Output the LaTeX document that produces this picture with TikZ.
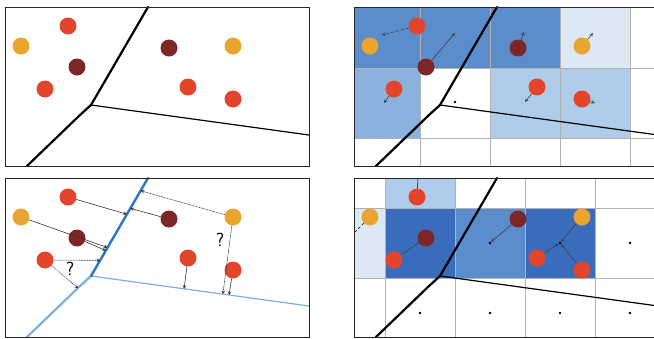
\documentclass[tikz,border=0pt]{standalone}
\usetikzlibrary{calc}

\definecolor{dotorange}{HTML}{EBA52F}
\definecolor{dotred}{HTML}{E2452C}
\definecolor{dotdark}{HTML}{7E2526}
\definecolor{cellA}{HTML}{3A6CBC}
\definecolor{cellB}{HTML}{5B8CCB}
\definecolor{cellC}{HTML}{8BB2DF}
\definecolor{cellD}{HTML}{B0CCEB}
\definecolor{cellE}{HTML}{DDE8F5}
\definecolor{bndblue}{HTML}{2C74C8}
\definecolor{bndlight}{HTML}{7DB0E2}

\begin{document}
\begin{tikzpicture}[line cap=round,line join=round,>=stealth,x=1pt,y=-1pt,
  frame/.style={draw=black!85,line width=1pt},
  dot/.style={circle,inner sep=0pt,minimum size=17pt},
  gridline/.style={draw=black!30,line width=0.6pt},
  centre/.style={circle,fill=black,inner sep=0pt,minimum size=2.6pt},
  shiftmove/.style={->,line width=0.6pt,draw=black!75},
  solidmove/.style={->,line width=0.6pt,draw=black!80},
  guessmove/.style={->,densely dotted,line width=0.6pt,draw=black!80},
  question/.style={font=\sffamily\fontsize{19}{21}\selectfont}]
  \useasboundingbox (0,0) rectangle (654,338);
  \clip (0,0) rectangle (654,338);

  % Points of one panel
  \def\placedots#1{
    \node[dot,fill=dotred] (#1r1) at (68,26) {};
    \node[dot,fill=dotorange] (#1o1) at (21,46) {};
    \node[dot,fill=dotdark] (#1d1) at (77,67) {};
    \node[dot,fill=dotred] (#1r2) at (45,89) {};
    \node[dot,fill=dotdark] (#1d2) at (169,48) {};
    \node[dot,fill=dotorange] (#1o2) at (233,46) {};
    \node[dot,fill=dotred] (#1r3) at (188,87) {};
    \node[dot,fill=dotred] (#1r4) at (233,99) {};
  }
  % Boundary corners of one panel
  \def\placebound#1{
    \coordinate (#1T) at (148,7);
    \coordinate (#1K) at (91,105);
    \coordinate (#1L) at (80,115);
    \coordinate (#1B) at (27,166);
    \coordinate (#1E) at (309,135);
  }

  % Top left: points and boundary
  \begin{scope}
    \placebound{a}
    \draw[line width=2.2pt] (aT) -- (aK) -- (aL) -- (aB);
    \draw[line width=1.2pt] (aK) -- (aE);
    \placedots{a}
    \draw[frame] (5,7) rectangle (309,166);
  \end{scope}

  % Top right: grid cells
  \begin{scope}[shift={(349,0)}]
    \fill[cellB] (5,7) rectangle (211,68);
    \fill[cellE] (211,7) rectangle (281,68);
    \fill[cellC] (5,68) rectangle (71,138);
    \fill[cellD] (141,68) rectangle (281,138);
    \foreach \gx in {71,141,211,281}
      \draw[gridline] (\gx,7) -- (\gx,166);
    \foreach \gy in {68,138}
      \draw[gridline] (5,\gy) -- (309,\gy);
    \placebound{b}
    \draw[line width=2.2pt] (bT) -- (bK) -- (bL) -- (bB);
    \draw[line width=1.2pt] (bK) -- (bE);
    \placedots{b}
    \coordinate (bm1) at (33,35);
    \coordinate (bm2) at (106,33);
    \coordinate (bm3) at (35,103);
    \coordinate (bm4) at (175,32);
    \coordinate (bm5) at (244,33);
    \coordinate (bm6) at (176,102);
    \coordinate (bm7) at (246,103);
    \draw[shiftmove,densely dashed] (br1) -- (bm1);
    \draw[shiftmove] (bd1) -- (bm2);
    \draw[shiftmove] (br2) -- (bm3);
    \draw[shiftmove] (bd2) -- (bm4);
    \draw[shiftmove] (bo2) -- (bm5);
    \draw[shiftmove] (br3) -- (bm6);
    \draw[shiftmove] (br4) -- (bm7);
    \node[centre] (bc1) at (106,102) {};
    \draw[frame] (5,7) rectangle (309,166);
  \end{scope}

  % Bottom left: projections on the boundary
  \begin{scope}[shift={(0,171)}]
    \placebound{c}
    \draw[bndlight,line width=2.2pt] (cK) -- (cL) -- (cB);
    \draw[bndlight,line width=1.2pt] (cK) -- (cE);
    \draw[bndblue,line width=2.4pt] (cT) -- (cK);
    \placedots{c}
    \coordinate (cp1) at ($(cT)!0.37!(cK)$);
    \coordinate (cp2) at ($(cT)!0.31!(cK)$);
    \coordinate (cp3) at ($(cT)!0.71!(cK)$);
    \coordinate (cp4) at ($(cT)!0.74!(cK)$);
    \coordinate (cp5) at ($(cT)!0.84!(cK)$);
    \coordinate (cp6) at ($(cK)!0.2!(cB)$);
    \coordinate (cp7) at ($(cT)!0.13!(cK)$);
    \coordinate (cp8) at ($(cK)!0.605!(cE)$);
    \coordinate (cp9) at ($(cK)!0.427!(cE)$);
    \coordinate (cp10) at ($(cK)!0.633!(cE)$);
    \draw[solidmove] (cr1) -- (cp1);
    \draw[solidmove] (cd2) -- (cp2);
    \draw[solidmove] (co1) -- (cp3);
    \draw[solidmove] (cd1) -- (cp4);
    \draw[guessmove] (cr2) -- (cp5);
    \draw[guessmove] (cr2) -- (cp6);
    \draw[guessmove] (co2) -- (cp7);
    \draw[guessmove] (co2) -- (cp8);
    \draw[solidmove] (cr3) -- (cp9);
    \draw[solidmove] (cr4) -- (cp10);
    \node[question] (cq1) at (70,98) {?};
    \node[question] (cq2) at (220,69) {?};
    \draw[frame] (5,7) rectangle (309,166);
  \end{scope}

  % Bottom right: shifted grid cells
  \begin{scope}[shift={(349,171)}]
    \fill[cellD] (36,7) rectangle (106,37);
    \fill[cellE] (5,37) rectangle (36,107);
    \fill[cellA] (36,37) rectangle (106,107);
    \fill[cellB] (106,37) rectangle (176,107);
    \fill[cellA] (176,37) rectangle (246,107);
    \foreach \gx in {36,106,176,246}
      \draw[gridline] (\gx,7) -- (\gx,166);
    \foreach \gy in {37,107}
      \draw[gridline] (5,\gy) -- (309,\gy);
    \placebound{d}
    \draw[line width=2.2pt] (dT) -- (dK) -- (dL) -- (dB);
    \draw[line width=1.2pt] (dK) -- (dE);
    \placedots{d}
    \foreach \cx/\cy [count=\i] in {71/142,141/142,211/142,281/142,281/72,141/72,211/72}
      \node[centre] (dc\i) at (\cx,\cy) {};
    \coordinate (dm1) at (72,70);
    \coordinate (dm2) at (6,61);
    \coordinate (dm3) at (69,7);
    \draw[shiftmove] (dr2) -- (dm1);
    \draw[shiftmove] (dd2) -- (dc6);
    \draw[shiftmove] (do2) -- (dc7);
    \draw[shiftmove] (dr3) -- (dc7);
    \draw[shiftmove] (dr4) -- (dc7);
    \draw[line width=0.5pt,densely dashed] (do1) -- (dm2);
    \draw[line width=0.5pt] (dr1) -- (dm3);
    \draw[frame] (5,7) rectangle (309,166);
  \end{scope}
\end{tikzpicture}
\end{document}
